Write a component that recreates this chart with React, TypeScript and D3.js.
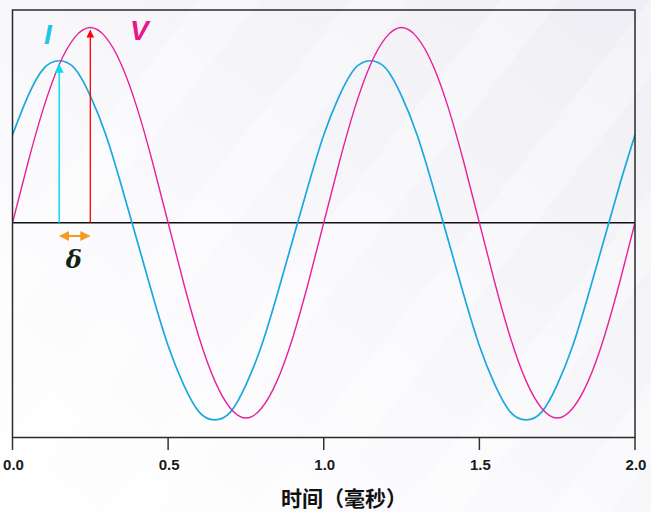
import React from "react";
import * as d3 from "d3";

// time in milliseconds, step 0.05
const times: number[] = [
  0, 0.05, 0.1, 0.15, 0.2, 0.25, 0.3, 0.35, 0.4, 0.45,
  0.5, 0.55, 0.6, 0.65, 0.7, 0.75, 0.8, 0.85, 0.9, 0.95,
  1.0, 1.05, 1.1, 1.15, 1.2, 1.25, 1.3, 1.35, 1.4, 1.45,
  1.5, 1.55, 1.6, 1.65, 1.7, 1.75, 1.8, 1.85, 1.9, 1.95, 2.0,
];

// voltage V (magenta)
const voltage: number[] = [
  0, 0.31, 0.59, 0.81, 0.95, 1.0, 0.95, 0.81, 0.59, 0.31,
  0, -0.31, -0.59, -0.81, -0.95, -1.0, -0.95, -0.81, -0.59, -0.31,
  0, 0.31, 0.59, 0.81, 0.95, 1.0, 0.95, 0.81, 0.59, 0.31,
  0, -0.31, -0.59, -0.81, -0.95, -1.0, -0.95, -0.81, -0.59, -0.31, 0,
];

// current I (cyan)
const current: number[] = [
  0.45, 0.65, 0.79, 0.83, 0.79, 0.65, 0.45, 0.19, -0.09, -0.37,
  -0.63, -0.83, -0.97, -1.01, -0.97, -0.83, -0.63, -0.37, -0.09, 0.19,
  0.45, 0.65, 0.79, 0.83, 0.79, 0.65, 0.45, 0.19, -0.09, -0.37,
  -0.63, -0.83, -0.97, -1.01, -0.97, -0.83, -0.63, -0.37, -0.09, 0.19, 0.45,
];

const xTicks: number[] = [0, 0.5, 1.0, 1.5, 2.0];
const xTickLabels: string[] = ["0.0", "0.5", "1.0", "1.5", "2.0"];

// markers: peak of I and peak of V
const iPeakT = 0.15;
const iPeakV = 0.83;
const vPeakT = 0.25;
const vPeakV = 1.0;

const xTitle = "时间（毫秒）";

export default function App() {
  const W = 651;
  const H = 512;
  const left = 12.5;
  const right = 635;
  const top = 10;
  const bottom = 437.5;

  const x = d3.scaleLinear().domain([0, 2]).range([left, right]);
  const y = d3.scaleLinear().domain([-1.1, 1.09]).range([bottom, top]);

  const line = (vals: number[]) =>
    d3
      .line<number>()
      .x((_, i) => x(times[i]))
      .y((d) => y(d))
      .curve(d3.curveNatural)(vals) || "";

  const stripes = [0, 1, 2, 3, 4, 5, 6];

  return (
    <svg
      width={W}
      height={H}
      style={{ position: "absolute", left: 0, top: 0 }}
      xmlns="http://www.w3.org/2000/svg"
    >
      <defs>
        <linearGradient id="bg" x1="0" y1="1" x2="1" y2="0">
          <stop offset="0" stopColor="#ffffff" />
          <stop offset="0.45" stopColor="#f9f9fc" />
          <stop offset="1" stopColor="#eeeef4" />
        </linearGradient>
        <marker id="arrCyan" viewBox="0 0 10 10" refX="9" refY="5" markerWidth="6" markerHeight="6" orient="auto">
          <path d="M0,0 L10,5 L0,10 z" fill="#00e0f0" />
        </marker>
        <marker id="arrRed" viewBox="0 0 10 10" refX="9" refY="5" markerWidth="6" markerHeight="6" orient="auto">
          <path d="M0,0 L10,5 L0,10 z" fill="#ff0000" />
        </marker>
        <marker id="arrOrE" viewBox="0 0 10 10" refX="9" refY="5" markerWidth="5" markerHeight="5" orient="auto">
          <path d="M0,0 L10,5 L0,10 z" fill="#f59a1e" />
        </marker>
        <marker id="arrOrS" viewBox="0 0 10 10" refX="1" refY="5" markerWidth="5" markerHeight="5" orient="auto">
          <path d="M10,0 L0,5 L10,10 z" fill="#f59a1e" />
        </marker>
        <clipPath id="plotClip">
          <rect x={left} y={top} width={right - left} height={bottom - top} />
        </clipPath>
      </defs>

      <rect x={0} y={0} width={W} height={H} fill="url(#bg)" />
      {stripes.map((s) => (
        <polygon
          key={s}
          points={`${-200 + s * 150},${H} ${-140 + s * 150},${H} ${260 + s * 150},0 ${200 + s * 150},0`}
          fill="#ffffff"
          opacity={0.35}
        />
      ))}

      {/* zero line */}
      <line x1={left} x2={right} y1={y(0)} y2={y(0)} stroke="#111" strokeWidth={1.5} />

      {/* curves */}
      <g clipPath="url(#plotClip)">
        <path d={line(current)} fill="none" stroke="#1aa8e0" strokeWidth={1.7} />
        <path d={line(voltage)} fill="none" stroke="#e6229b" strokeWidth={1.4} />
      </g>

      {/* peak marker lines */}
      <line
        x1={x(iPeakT)}
        x2={x(iPeakT)}
        y1={y(0)}
        y2={y(iPeakV) + 4}
        stroke="#00e0f0"
        strokeWidth={1.5}
        markerEnd="url(#arrCyan)"
      />
      <line
        x1={x(vPeakT)}
        x2={x(vPeakT)}
        y1={y(0)}
        y2={y(vPeakV) + 3}
        stroke="#ff0000"
        strokeWidth={1.3}
        markerEnd="url(#arrRed)"
      />

      {/* delta double arrow */}
      <line
        x1={x(iPeakT) + 1}
        x2={x(vPeakT) - 1}
        y1={236}
        y2={236}
        stroke="#f59a1e"
        strokeWidth={2}
        markerStart="url(#arrOrS)"
        markerEnd="url(#arrOrE)"
      />
      <text
        x={(x(iPeakT) + x(vPeakT)) / 2 - 1}
        y={268}
        textAnchor="middle"
        fontFamily="'DejaVu Serif', 'Liberation Serif', serif"
        fontStyle="italic"
        fontWeight="bold"
        fontSize={24}
        fill="#122412"
      >
        δ
      </text>

      {/* I and V labels */}
      <text
        x={44}
        y={44}
        fontFamily="'Liberation Sans', Arial, sans-serif"
        fontStyle="italic"
        fontWeight="bold"
        fontSize={28}
        fill="#1ec6ea"
      >
        I
      </text>
      <text
        x={130}
        y={40}
        fontFamily="'Liberation Sans', Arial, sans-serif"
        fontStyle="italic"
        fontWeight="bold"
        fontSize={28}
        fill="#e8168c"
      >
        V
      </text>

      {/* plot frame */}
      <rect
        x={left}
        y={top}
        width={right - left}
        height={bottom - top}
        fill="none"
        stroke="#2a2a2a"
        strokeWidth={1.5}
      />

      {/* x axis ticks */}
      {xTicks.map((t, i) => (
        <g key={t}>
          <line x1={x(t)} x2={x(t)} y1={bottom} y2={450} stroke="#333" strokeWidth={1.5} />
          <text
            x={x(t) + 1}
            y={470}
            textAnchor="middle"
            fontFamily="'Liberation Sans', Arial, sans-serif"
            fontWeight="bold"
            fontSize={15}
            fill="#1a1a1a"
          >
            {xTickLabels[i]}
          </text>
        </g>
      ))}

      <text
        x={281}
        y={506}
        fontFamily="'Noto Sans CJK SC', sans-serif"
        fontWeight="bold"
        fontSize={21}
        fill="#111"
      >
        {xTitle}
      </text>
    </svg>
  );
}
